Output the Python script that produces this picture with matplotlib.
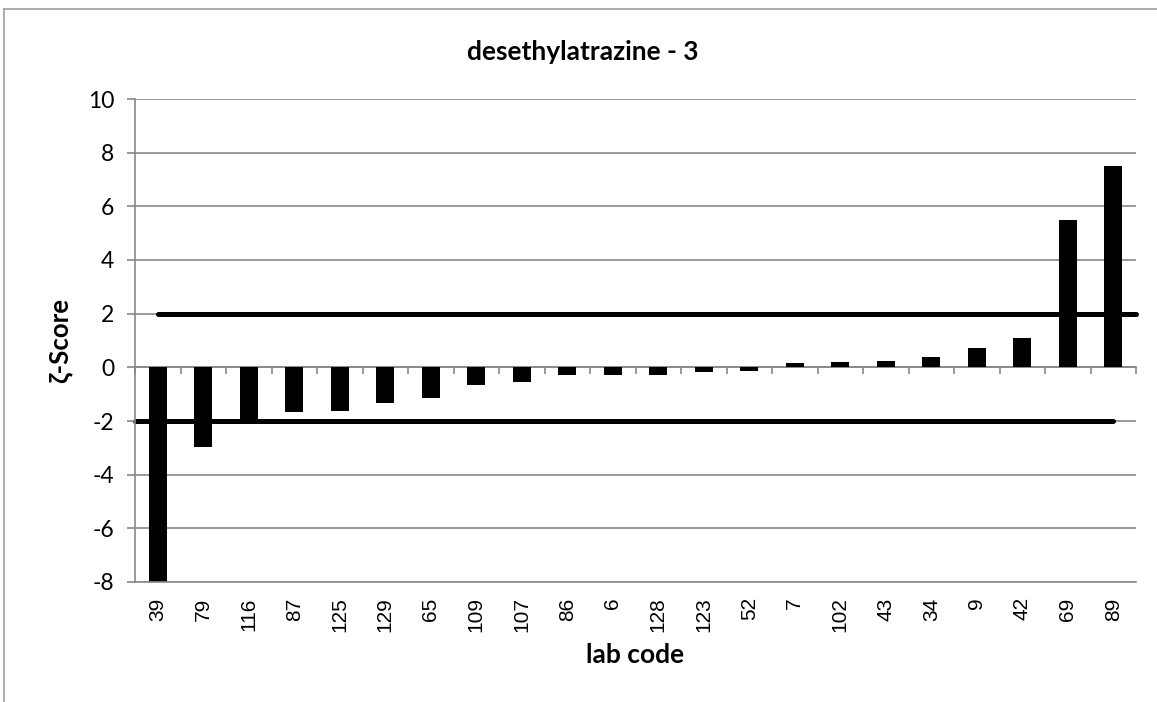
import numpy as np
import matplotlib.pyplot as plt
from matplotlib.lines import Line2D

# lab codes and zeta scores (sorted)
labCodes = ['39', '79', '116', '87', '125', '129', '65', '109', '107', '86', '6',
            '128', '123', '52', '7', '102', '43', '34', '9', '42', '69', '89']
zetaScores = [-8.3, -2.98, -2.05, -1.68, -1.62, -1.32, -1.13, -0.66, -0.55, -0.30,
              -0.27, -0.30, -0.19, -0.15, 0.16, 0.21, 0.25, 0.38, 0.73, 1.08,
              5.48, 7.52]
limitUpper = 2
limitLower = -2
yTicks = [-8, -6, -4, -2, 0, 2, 4, 6, 8, 10]

grid_col = '#888888'
fig = plt.figure(figsize=(11.57, 7.02), dpi=100)
ax = fig.add_axes([135/1157, 1 - 582/702, 1001/1157, 483/702])

x = np.arange(len(labCodes))
ax.set_xlim(-0.5, len(labCodes) - 0.5)
ax.set_ylim(-8, 10)

# grid lines behind everything
for yv in yTicks:
    ax.axhline(yv, color=grid_col, lw=1.2, zorder=0)

# limit lines (behind bars)
ax.plot([x[0], ax.get_xlim()[1]], [limitUpper, limitUpper], color='black', lw=3.6,
        solid_capstyle='round', zorder=1, clip_on=False)
ax.plot([ax.get_xlim()[0], x[-1]], [limitLower, limitLower], color='black', lw=3.6,
        solid_capstyle='round', zorder=1, clip_on=False)

ax.bar(x, zetaScores, width=0.4, color='black', zorder=2)

# y axis
ax.set_yticks(yTicks)
ax.set_yticklabels([str(v) for v in yTicks], fontfamily='Lato', fontsize=16.5)
ax.tick_params(axis='y', direction='out', length=6, width=1.2, color=grid_col, pad=9)
ax.set_ylabel('ζ-Score', fontfamily='Lato', fontweight='bold', fontsize=18.5, labelpad=11)

# x axis labels at bottom, no tick marks
ax.set_xticks(x)
ax.set_xticklabels(labCodes, rotation=90, fontfamily='Liberation Sans', fontsize=15)
ax.tick_params(axis='x', length=0, pad=11)
ax.set_xlabel('lab code', fontfamily='Lato', fontweight='bold', fontsize=19, labelpad=8)

# zero axis with tick marks between categories
sec = ax.secondary_xaxis(8 / 18)
sec.set_xticks(np.arange(-0.5, len(labCodes)))
sec.set_xticklabels([])
sec.tick_params(axis='x', direction='out', length=5, width=1.2, color=grid_col)
sec.spines['bottom'].set_color(grid_col)
sec.spines['bottom'].set_linewidth(1.2)

for s in ['top', 'right']:
    ax.spines[s].set_visible(False)
ax.spines['left'].set_color(grid_col)
ax.spines['left'].set_linewidth(1.2)
ax.spines['bottom'].set_color(grid_col)
ax.spines['bottom'].set_linewidth(1.2)

fig.text(583/1157, 1 - 52/702, 'desethylatrazine - 3', ha='center', va='center',
         fontfamily='Lato', fontweight='bold', fontsize=19)

# chart border (top and left visible)
fig.add_artist(Line2D([4/1157, 1], [1 - 9/702, 1 - 9/702], transform=fig.transFigure,
                      color='#a0a0a0', lw=1.2))
fig.add_artist(Line2D([4/1157, 4/1157], [0, 1 - 9/702], transform=fig.transFigure,
                      color='#a0a0a0', lw=1.2))

fig.savefig('out.png', dpi=100)
